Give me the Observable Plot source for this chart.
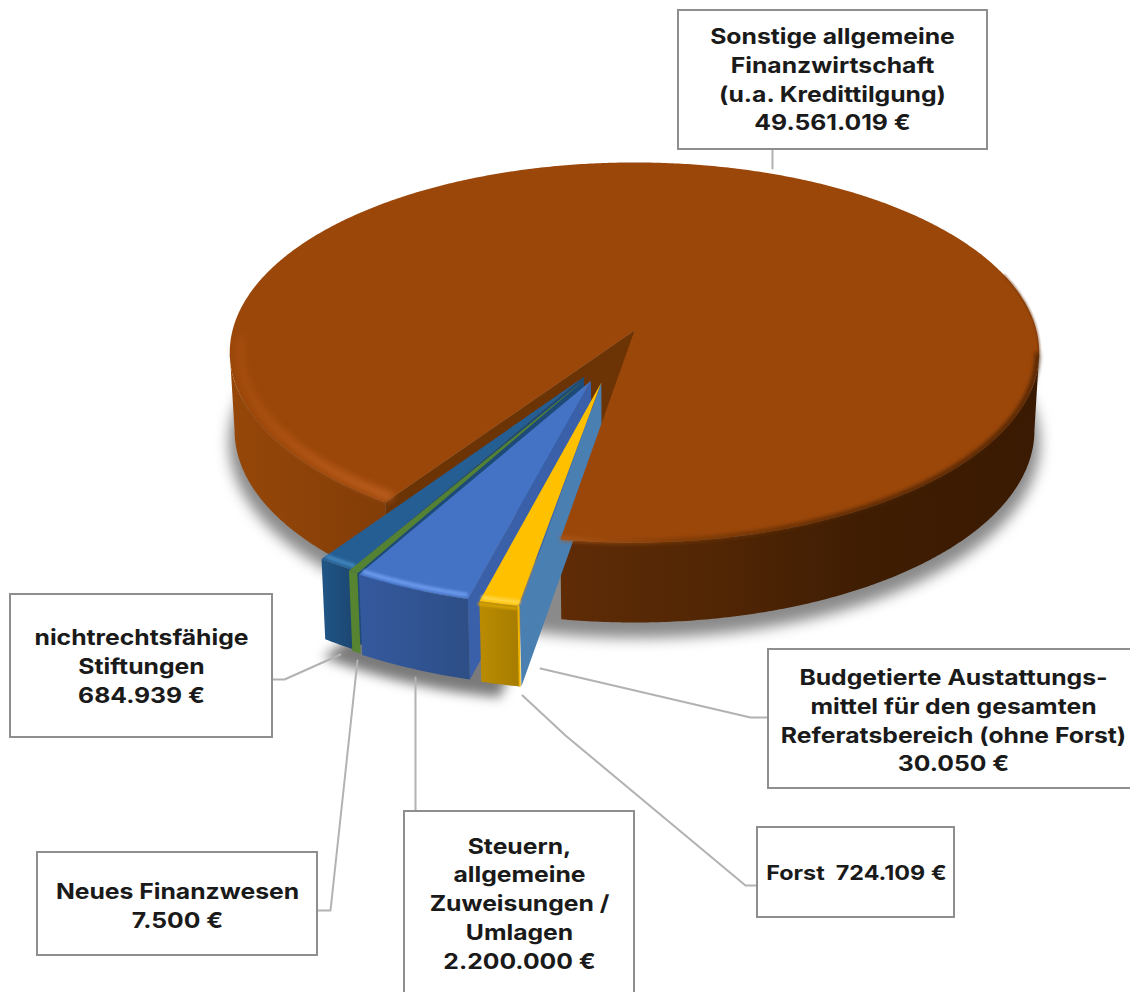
<!DOCTYPE html>
<html><head><meta charset="utf-8">
<style>html,body{margin:0;padding:0;background:#fff;overflow:hidden}</style>
<script src="https://cdn.jsdelivr.net/npm/d3@7"></script>
<script src="https://cdn.jsdelivr.net/npm/@observablehq/plot@0.6"></script>
</head><body><div id="chart"></div>
<script>
// ---------- data ----------
const categories = ["Sonstige allgemeine\nFinanzwirtschaft\n(u.a. Kredittilgung)","Budgetierte Austattungs-\nmittel für den gesamten\nReferatsbereich (ohne Forst)","Forst ","Steuern,\nallgemeine\nZuweisungen /\nUmlagen","Neues Finanzwesen","nichtrechtsfähige\nStiftungen"];
const values = [49561019, 30050, 724109, 2200000, 7500, 684939];
// ---------- layout (not data) ----------
const labelX = [832, 953, 856, 519, 177, 141];
const labelY = [77.5, 718.5, 871, 901.5, 903.5, 664.5];
const labelSize = [21.5, 21.5, 20.3, 21.5, 21.5, 21.5];
const boxX1 = [678, 768, 757, 404, 37, 10], boxX2 = [987, 1140, 954, 634, 317, 272];
const boxY1 = [10, 649, 827, 811, 852, 594], boxY2 = [149, 788, 917, 1000, 955, 737];
const leaders = [
  [[772,149],[772,168]],
  [[768,717],[750,717],[540,668]],
  [[757,885],[745,885],[565,735],[522,695]],
  [[415,811],[415,677]],
  [[317,910],[330,910],[357,660]],
  [[272,679],[284,679],[340,654]]
];
const explode = [null,[-.08,.269],[-.08,.269],[-.105,.26],[-.118,.25],[-.122,.24]];
const START = 9.4;
const view = {cx:634, cy:330, Sx:402, Sy:187.5, Sz:78, k:.1158, kz:.012};

const total = d3.sum(values);
const sweep = values.map(v => v / total * 360);
let acc = START;
const order = [1,2,3,4,5,0];
const a0 = [], a1 = [];
for (const i of order) { a0[i] = acc; acc += sweep[i]; a1[i] = acc; }

function P(u, v, z) {
  const w = (1 - view.k * v) * (1 + view.kz * z);
  return {x: view.cx + view.Sx * u / w, y: view.cy + view.Sy * v / w + view.Sz * z / Math.sqrt(w)};
}
function pt(a, r, off, z) {
  const t = a * Math.PI / 180;
  return P(-Math.sin(t) * r + off[0], Math.cos(t) * r + off[1], z);
}
function arc(b0, b1, r, off, z) {
  const n = Math.max(2, Math.ceil(Math.abs(b1 - b0) / .5));
  return d3.range(n + 1).map(j => pt(b0 + (b1 - b0) * j / n, r, off, z));
}
const O = [0, 0];
const poly = (pts, fill, extra = {}) => Plot.line([...pts, pts[0]], {x: "x", y: "y", fill, stroke: "none", ...extra});
const edge = (pts, stroke, strokeWidth, extra = {}) => Plot.line(pts, {x: "x", y: "y", stroke, strokeWidth, strokeLinecap: "butt", ...extra});
const wall = (b0, b1, off, fill) => poly([...arc(b0, b1, 1, off, 0), ...arc(b1, b0, 1, off, 1)], fill);
const face = (b0, b1, off, fill) => poly([P(off[0], off[1], 0), ...arc(b0, b1, 1, off, 0)], fill);
const cut = (a, off, fill) => poly([P(off[0], off[1], 0), pt(a, 1, off, 0), pt(a, 1, off, 1), P(off[0], off[1], 1)], fill);

function defs() {
  const g = d3.create("svg:defs");
  const grad = (id, x1, x2, stops) => {
    const l = g.append("linearGradient").attr("id", id).attr("gradientUnits", "userSpaceOnUse")
      .attr("x1", x1).attr("x2", x2).attr("y1", 0).attr("y2", 0);
    stops.forEach(([o, c]) => l.append("stop").attr("offset", o).attr("stop-color", c));
  };
  grad("bw", 230, 1040, [[0,"#964709"],[.1,"#8c4208"],[.2,"#813c07"],[.42,"#5e2b06"],[.6,"#512605"],[.78,"#3f1d03"],[1,"#3a1a02"]]);
  grad("rim", 230, 1040, [[0,"#a34c0e"],[.08,"#b25616"],[.2,"#c06222"],[.41,"#ad5818"],[.55,"#7a3a06"],[.75,"#4e2403"],[1,"#3f1d03"]]);
  grad("sw", 322, 355, [[0,"#1f5585"],[1,"#1c4570"]]);
  grad("bwf", 360, 470, [[0,"#35599e"],[1,"#2d4e86"]]);
  grad("yw", 478, 520, [[0,"#bb8c02"],[1,"#a67c00"]]);
  return g.node();
}

const [iB, iU, iF, iS, iN, iT] = [0,1,2,3,4,5];
const oT = explode[iT], oN = explode[iN], oS = explode[iS], oF = explode[iF], oU = explode[iU];
const nPad = .6; // a hair-thin slice gets a visible width
const fmt = d3.formatLocale({decimal:",", thousands:".", grouping:[3], currency:["","€"]}).format(",");

const labelText = categories.map((c, i) => c + (c.endsWith(" ") ? " " : "\n") + fmt(values[i]) + " €");
const labelRows = labelText.map((text, i) => ({text, x: labelX[i], y: labelY[i], size: labelSize[i]}));
const boxRows = labelX.map((_, i) => ({x1: boxX1[i], x2: boxX2[i], y1: boxY1[i], y2: boxY2[i]}));
const lineRows = leaders.flatMap((l, i) => l.map(([x, y]) => ({x, y, i})));
const END = START + 360;
const SIL = Math.acos(view.k) * 180 / Math.PI; // silhouette angle of the drum

const plot = Plot.plot({
  width: 1130, height: 992, margin: 0,
  x: {domain: [0, 1130], axis: null},
  y: {domain: [992, 0], axis: null},
  style: {background: "#fff"},
  marks: [
    defs,
    // soft shadows
    poly(arc(0, 360, 1.015, O, 1.15), "#8a8a8a", {imageFilter: "blur(7px)"}),
    poly([P(oT[0], oT[1], 1.2), ...arc(a0[iF], a1[iT], 1.01, oT, 1.2)], "#7a7a7a", {imageFilter: "blur(6px)"}),
    // main slice walls
    wall(a1[iT], SIL, O, "url(#bw)"),
    wall(360 - SIL, END, O, "url(#bw)"),
    cut(a1[iT], O, "#6c3305"),
    // Stiftungen
    cut(a0[iT], oT, "#1d4a76"),
    wall(a0[iT], a1[iT], oT, "url(#sw)"),
    face(a0[iT], a1[iT], oT, "#255e93"),
    edge(arc(a0[iT], a1[iT], .985, oT, 0), "#4388c0", 4, {imageFilter: "blur(1.5px)"}),
    // Steuern
    cut(a0[iS], oS, "#3a60aa"),
    wall(a0[iS], a1[iS], oS, "url(#bwf)"),
    face(a0[iS], a1[iS], oS, "#4472c4"),
    edge(arc(a0[iS] + .3, a1[iS], .985, oS, 0), "#6f9cee", 4, {imageFilter: "blur(1.5px)"}),
    // Neues Finanzwesen
    wall(a0[iN] - nPad, a1[iN] + nPad, oN, "#578430"),
    face(a0[iN] - nPad, a1[iN] + nPad, oN, "#548235"),
    // Budgetierte Mittel
    cut(a0[iU], oU, "#4a7fb1"),
    // Forst
    wall(a0[iF], a1[iF], oF, "url(#yw)"),
    face(a0[iF], a1[iF], oF, "#ffc000"),
    edge(arc(a0[iF], a1[iF], .985, oF, 0), "#ffd84a", 4, {imageFilter: "blur(1.5px)"}),
    edge(arc(a0[iF], a1[iF], 1.01, oF, 0), "#d6a300", 3, {imageFilter: "blur(1px)"}),
    edge([pt(a0[iF], 1, oF, 0), pt(a0[iF], 1, oF, 1)], "#f0b400", 2),
    // main slice top
    face(a1[iT], END, O, "#9b470a"),
    edge(arc(a1[iT], 88, .975, O, 0), "url(#rim)", 9, {imageFilter: "blur(3.5px)", strokeOpacity: .9}),
    edge(arc(252, 360 - SIL, 1, O, 0), "#6a3206", 1.2, {imageFilter: "blur(.8px)"}),
    edge(arc(360 - SIL, END, .996, O, 0), "url(#rim)", 4, {imageFilter: "blur(2px)"}),
    // leaders and labels
    Plot.line(lineRows, {x: "x", y: "y", z: "i", stroke: "#b2b2b2", strokeWidth: 2}),
    Plot.rect(boxRows, {x1: "x1", x2: "x2", y1: "y1", y2: "y2", fill: "#fff", stroke: "#8e8e8e", strokeWidth: 2}),
    Plot.text(labelRows, {x: "x", y: "y", text: "text", fontFamily: "Inter", fontWeight: 700, fontSize: "size", lineHeight: 1.34, fill: "#1a1a1a",
      render(index, scales, channels, dimensions, context, next) {
        const g = next(index, scales, channels, dimensions, context);
        d3.select(g).selectAll("text").attr("transform", function () { return (this.getAttribute("transform") || "") + " scale(1.15,1)"; });
        return g;
      }})
  ]
});
document.getElementById("chart").appendChild(plot);
</script></body></html>
